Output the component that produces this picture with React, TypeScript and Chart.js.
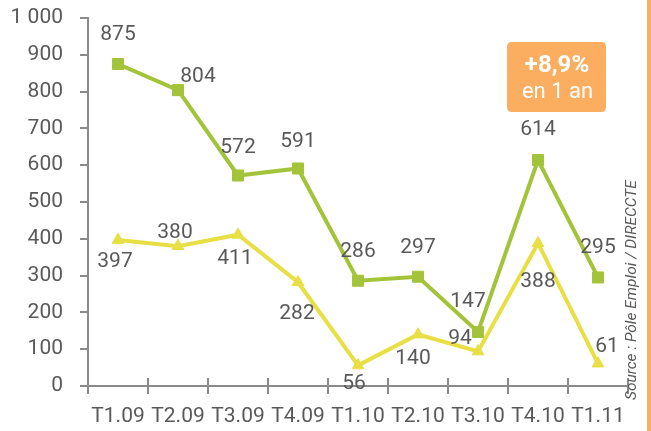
import React, { useEffect, useRef } from "react";
import { Chart, registerables } from "chart.js";

Chart.register(...registerables);

const categories = ["T1.09", "T2.09", "T3.09", "T4.09", "T1.10", "T2.10", "T3.10", "T4.10", "T1.11"];
const greenValues = [875, 804, 572, 591, 286, 297, 147, 614, 295];
const yellowValues = [397, 380, 411, 282, 56, 140, 94, 388, 61];
const yTicks = [0, 100, 200, 300, 400, 500, 600, 700, 800, 900, 1000];
const badgeLine1 = "+8,9%";
const badgeLine2 = "en 1 an";
const sourceText = "Source : Pôle Emploi / DIRECCTE";

// label offsets (style)
const greenLabelOffsets: [number, number][] = [
  [0, -29], [20, -13], [0, -28], [0, -27], [0, -29], [0, -29], [-10, -30], [0, -30], [0, -30],
];
const yellowLabelOffsets: [number, number][] = [
  [-3, 22], [-3, -13], [-3, 24], [-1, 32], [-4, 18], [-5, 24], [-18, -13], [0, 39], [9, -17],
];

const GREEN = "#a3c43a";
const YELLOW = "#e8df45";
const ORANGE = "#fbad60";
const TEXT = "#595959";
const AXIS = "#8a8a8a";
const FONT = "Roboto";
const FSIZE = 21;

function fmt(v: number) {
  const s = String(v);
  return s.length > 3 ? s.slice(0, s.length - 3) + " " + s.slice(-3) : s;
}

const overlayPlugin = {
  id: "overlay",
  afterDatasetsDraw(chart: any) {
    const ctx = chart.ctx;
    const xs = chart.scales.x;
    const ys = chart.scales.y;
    ctx.save();
    ctx.strokeStyle = AXIS;
    ctx.lineWidth = 2;
    const bottom = chart.chartArea.bottom;
    for (let i = 0; i <= categories.length; i++) {
      const x = xs.getPixelForValue(i - 0.5);
      ctx.beginPath();
      ctx.moveTo(x, bottom - 8);
      ctx.lineTo(x, bottom);
      ctx.stroke();
    }
    ctx.font = `${FSIZE}px ${FONT}`;
    ctx.fillStyle = TEXT;
    ctx.textAlign = "center";
    ctx.textBaseline = "middle";
    const sets: [number[], [number, number][]][] = [
      [greenValues, greenLabelOffsets],
      [yellowValues, yellowLabelOffsets],
    ];
    sets.forEach(([vals, offs]) => {
      vals.forEach((v, i) => {
        const x = xs.getPixelForValue(i) + offs[i][0];
        const y = ys.getPixelForValue(v) + offs[i][1];
        ctx.fillText(String(v), x, y);
      });
    });
    const bx = 507, by = 42, bw = 99, bh = 70, r = 5;
    ctx.fillStyle = ORANGE;
    ctx.beginPath();
    ctx.moveTo(bx + r, by);
    ctx.lineTo(bx + bw - r, by);
    ctx.quadraticCurveTo(bx + bw, by, bx + bw, by + r);
    ctx.lineTo(bx + bw, by + bh - r);
    ctx.quadraticCurveTo(bx + bw, by + bh, bx + bw - r, by + bh);
    ctx.lineTo(bx + r, by + bh);
    ctx.quadraticCurveTo(bx, by + bh, bx, by + bh - r);
    ctx.lineTo(bx, by + r);
    ctx.quadraticCurveTo(bx, by, bx + r, by);
    ctx.fill();
    ctx.fillStyle = "#ffffff";
    ctx.font = `bold 24px ${FONT}`;
    ctx.fillText(badgeLine1, bx + bw / 2 + 0.5, 66);
    ctx.font = `22px ${FONT}`;
    ctx.fillText(badgeLine2, bx + bw / 2 + 1, 92);
    ctx.fillStyle = ORANGE;
    ctx.fillRect(647, 0, 4, chart.height);
    ctx.save();
    ctx.translate(632, 400);
    ctx.rotate(-Math.PI / 2);
    ctx.font = `italic 15.5px ${FONT}`;
    ctx.fillStyle = TEXT;
    ctx.textAlign = "left";
    ctx.textBaseline = "middle";
    ctx.fillText(sourceText, 0, 0);
    ctx.restore();
    ctx.restore();
  },
};

export default function App() {
  const ref = useRef<HTMLCanvasElement>(null);
  useEffect(() => {
    document.body.style.margin = "0";
    const chart = new Chart(ref.current!, {
      type: "line",
      data: {
        labels: categories,
        datasets: [
          {
            data: greenValues,
            borderColor: GREEN,
            backgroundColor: GREEN,
            borderWidth: 4,
            pointStyle: "rect",
            pointRadius: 7.8,
            pointHoverRadius: 7.8,
            pointBorderWidth: 1,
            tension: 0,
          },
          {
            data: yellowValues,
            borderColor: YELLOW,
            backgroundColor: YELLOW,
            borderWidth: 4,
            pointStyle: "triangle",
            pointRadius: 6.8,
            pointHoverRadius: 6.8,
            pointBorderWidth: 1,
            tension: 0,
          },
        ],
      },
      options: {
        animation: false,
        responsive: false,
        events: [],
        layout: { padding: { top: 18, right: 23, left: 0, bottom: 0 } },
        plugins: { legend: { display: false }, tooltip: { enabled: false } },
        scales: {
          x: {
            offset: true,
            afterFit: (s: any) => { s.height = 45; s.paddingLeft = 0; s.paddingRight = 0; },
            border: { color: AXIS, width: 2 },
            grid: { offset: true, drawOnChartArea: false, color: AXIS, lineWidth: 2, tickLength: 8 },
            ticks: { color: TEXT, font: { family: FONT, size: FSIZE }, padding: 10, maxRotation: 0, autoSkip: false },
          },
          y: {
            min: 0,
            max: 1000,
            afterFit: (s: any) => { s.width = 88; s.paddingTop = 0; s.paddingBottom = 0; },
            afterBuildTicks: (s: any) => { s.ticks = yTicks.map((v) => ({ value: v })); },
            border: { color: AXIS, width: 2 },
            grid: { drawOnChartArea: false, color: AXIS, lineWidth: 2, tickLength: 8 },
            ticks: {
              color: TEXT,
              font: { family: FONT, size: FSIZE },
              padding: 17,
              callback: (v: any) => fmt(Number(v)),
            },
          },
        },
      },
      plugins: [overlayPlugin],
    });
    return () => chart.destroy();
  }, []);
  return <canvas ref={ref} width={651} height={431} style={{ display: "block" }} />;
}
